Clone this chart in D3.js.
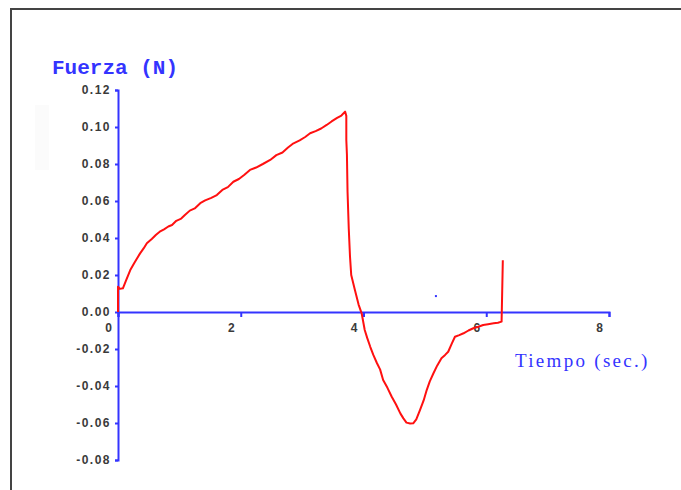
<!DOCTYPE html>
<html>
<head>
<meta charset="utf-8">
<script src="https://cdn.jsdelivr.net/npm/d3@7"></script>
<style>
  html, body { margin: 0; padding: 0; background: #ffffff; }
  svg { display: block; }
</style>
</head>
<body>
<div id="chart"></div>
<script>
// ---- data ----
const time = [
  0.00, 0.00, 0.03, 0.08, 0.13, 0.20, 0.27, 0.36, 0.42, 0.47,
  0.55, 0.62, 0.68, 0.75, 0.82, 0.88, 0.95, 1.03, 1.09, 1.17,
  1.25, 1.34, 1.42, 1.52, 1.61, 1.70, 1.79, 1.88, 1.97, 2.06,
  2.15, 2.25, 2.36, 2.48, 2.58, 2.68, 2.77, 2.86, 2.96, 3.05,
  3.13, 3.22, 3.31, 3.40, 3.48, 3.57, 3.64, 3.70, 3.72, 3.72,
  3.73, 3.74, 3.76, 3.78, 3.80, 3.86, 3.92, 3.97, 4.02, 4.06,
  4.11, 4.16, 4.22, 4.27, 4.32, 4.39, 4.46, 4.53, 4.60, 4.65,
  4.70, 4.76, 4.81, 4.86, 4.92, 4.98, 5.03, 5.08, 5.14, 5.20,
  5.27, 5.33, 5.38, 5.44, 5.49, 5.56, 5.63, 5.71, 5.79, 5.87,
  5.95, 6.03, 6.12, 6.19, 6.25, 6.27
];
const force = [
  0.0000, 0.0137, 0.0125, 0.0128, 0.0170, 0.0227, 0.0268, 0.0317, 0.0345, 0.0372,
  0.0395, 0.0418, 0.0434, 0.0447, 0.0462, 0.0470, 0.0493, 0.0505, 0.0524, 0.0548,
  0.0560, 0.0588, 0.0603, 0.0617, 0.0632, 0.0660, 0.0675, 0.0704, 0.0719, 0.0742,
  0.0768, 0.0781, 0.0800, 0.0822, 0.0848, 0.0862, 0.0889, 0.0912, 0.0928, 0.0946,
  0.0966, 0.0978, 0.0992, 0.1011, 0.1030, 0.1049, 0.1062, 0.1083, 0.1060, 0.0930,
  0.0850, 0.0650, 0.0450, 0.0300, 0.0200, 0.0119, 0.0040, -0.0007, -0.0097, -0.0140,
  -0.0188, -0.0232, -0.0277, -0.0310, -0.0368, -0.0410, -0.0458, -0.0500, -0.0548, -0.0575,
  -0.0598, -0.0603, -0.0602, -0.0580, -0.0530, -0.0478, -0.0422, -0.0375, -0.0331, -0.0290,
  -0.0250, -0.0232, -0.0215, -0.0170, -0.0134, -0.0125, -0.0115, -0.0100, -0.0088, -0.0080,
  -0.0070, -0.0066, -0.0061, -0.0058, -0.0052, 0.0280
];
const strayTime = [5.18];
const strayForce = [0.0086];

const xTicks = [0, 2, 4, 6, 8];
const xTickLabels = ["0", "2", "4", "6", "8"];
const yTicks = [0.12, 0.10, 0.08, 0.06, 0.04, 0.02, 0.00, -0.02, -0.04, -0.06, -0.08];
const yTickLabels = ["0.12", "0.10", "0.08", "0.06", "0.04", "0.02", "0.00", "-0.02", "-0.04", "-0.06", "-0.08"];

const yTitle = "Fuerza (N)";
const xTitle = "Tiempo (sec.)";

// ---- layout ----
const W = 681, H = 490;
const BLUE = "#3434ff";
const RED = "#ff1010";

const svg = d3.select("#chart").append("svg")
  .attr("width", W).attr("height", H);

// outer frame
svg.append("rect")
  .attr("x", 11).attr("y", 9).attr("width", 720).attr("height", 520)
  .attr("fill", "none").attr("stroke", "#444").attr("stroke-width", 2);

// faint artifact rectangle
svg.append("rect")
  .attr("x", 35).attr("y", 105).attr("width", 14).attr("height", 65)
  .attr("fill", "#fbfbfb");

const x = d3.scaleLinear().domain([0, 8]).range([118, 609]);
const y = d3.scaleLinear().domain([-0.08, 0.12]).range([460, 90]);

const tickFont = "Arial, 'Liberation Sans', sans-serif";

// Y axis
const yAxis = svg.append("g")
  .attr("transform", `translate(${x(0)},0)`)
  .call(d3.axisLeft(y).tickValues(yTicks).tickSize(3).tickSizeOuter(3).tickPadding(4)
    .tickFormat((d, i) => yTickLabels[i]));
yAxis.select(".domain").attr("stroke", BLUE).attr("stroke-width", 2);
yAxis.selectAll(".tick line").attr("stroke", BLUE).attr("stroke-width", 2);
yAxis.selectAll(".tick text")
  .attr("fill", "#3a3a3a").attr("font-family", tickFont)
  .attr("font-size", 12).attr("font-weight", "bold").attr("letter-spacing", 1.5);

// X axis
const xAxis = svg.append("g")
  .attr("transform", `translate(0,${y(0)})`)
  .call(d3.axisBottom(x).tickValues(xTicks).tickSize(5).tickSizeOuter(5)
    .tickFormat((d, i) => xTickLabels[i]));
xAxis.select(".domain").attr("stroke", BLUE).attr("stroke-width", 2);
xAxis.selectAll(".tick line").attr("stroke", BLUE).attr("stroke-width", 2);
xAxis.selectAll(".tick text")
  .attr("fill", "#3a3a3a").attr("font-family", tickFont)
  .attr("font-size", 12).attr("font-weight", "bold")
  .attr("x", -10).attr("y", 20).attr("dy", 0);

// curve
const pts = time.map((t, i) => [t, force[i]]);
svg.append("path")
  .datum(pts)
  .attr("fill", "none").attr("stroke", RED).attr("stroke-width", 2)
  .attr("stroke-linejoin", "round")
  .attr("d", d3.line().x(d => x(d[0])).y(d => y(d[1])));

// stray point
svg.selectAll(".stray").data(strayTime).enter().append("rect")
  .attr("class", "stray")
  .attr("x", (d) => x(d) - 1).attr("y", (d, i) => y(strayForce[i]) - 1)
  .attr("width", 2).attr("height", 2).attr("fill", BLUE);

// titles
svg.append("text")
  .attr("x", 52).attr("y", 74)
  .attr("fill", BLUE)
  .attr("font-family", "'Liberation Mono', 'Courier New', monospace")
  .attr("font-size", 21).attr("font-weight", "bold")
  .text(yTitle);

svg.append("text")
  .attr("x", 515).attr("y", 367)
  .attr("fill", BLUE)
  .attr("font-family", "'Liberation Serif', 'Times New Roman', serif")
  .attr("font-size", 19).attr("letter-spacing", 2.3)
  .text(xTitle);
</script>
</body>
</html>
